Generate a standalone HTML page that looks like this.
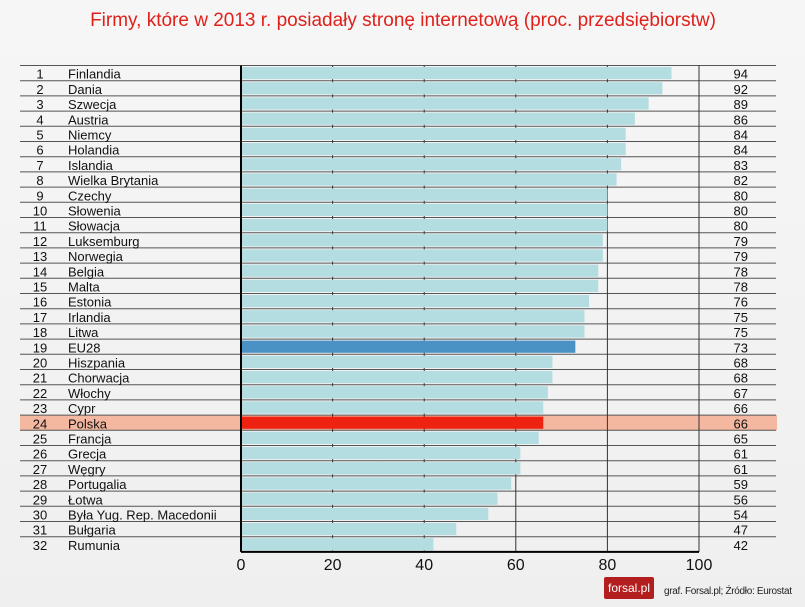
<!DOCTYPE html>
<html><head><meta charset="utf-8"><style>
body{margin:0;background:#f4f4f4;font-family:"Liberation Sans",sans-serif;}
#wrap{position:relative;width:805px;height:607px;overflow:hidden;background:linear-gradient(180deg,#f6f6f6,#efefef);}
</style></head><body>
<div id="wrap">
<svg id="svg" width="805" height="607" xmlns="http://www.w3.org/2000/svg">
<text x="403" y="26" text-anchor="middle" font-size="19" fill="#e0201a" font-family="Liberation Sans, sans-serif">Firmy, które w 2013 r. posiadały stronę internetową (proc. przedsiębiorstw)</text>
<g id="rows"></g>
<g id="grid"></g>
<g id="bars"></g>
<g id="labels"></g>
<rect x="604" y="577" width="50" height="22" rx="2" fill="#b21e1e"/>
<text x="629" y="592" text-anchor="middle" font-size="12" fill="#fff">forsal.pl</text>
<text x="664" y="594" font-size="10" fill="#222" textLength="128">graf. Forsal.pl; Źródło: Eurostat</text>
</svg>
</div>
<script>
const countries=["Finlandia","Dania","Szwecja","Austria","Niemcy","Holandia","Islandia","Wielka Brytania","Czechy","Słowenia","Słowacja","Luksemburg","Norwegia","Belgia","Malta","Estonia","Irlandia","Litwa","EU28","Hiszpania","Chorwacja","Włochy","Cypr","Polska","Francja","Grecja","Węgry","Portugalia","Łotwa","Była Yug. Rep. Macedonii","Bułgaria","Rumunia"];
const values=[94,92,89,86,84,84,83,82,80,80,80,79,79,78,78,76,75,75,73,68,68,67,66,66,65,61,61,59,56,54,47,42];
const ticks=[0,20,40,60,80,100];
const NS="http://www.w3.org/2000/svg";
const x0=241,x1=699,yTop=65.5,rh=15.2;
const xs=v=>x0+(v/100)*(x1-x0);
const ys=i=>yTop+i*rh;
function mk(t,a,p){const e=document.createElementNS(NS,t);for(const k in a)e.setAttribute(k,a[k]);p.appendChild(e);return e;}
const rows=document.getElementById('rows'),grid=document.getElementById('grid'),bars=document.getElementById('bars'),labels=document.getElementById('labels');
countries.forEach((c,i)=>{
  const y=ys(i);
  if(c==="Polska"){const h=mk('rect',{x:20,y:y,width:757,height:rh,fill:'#f4b8a0'},rows);
    
    }
  const l=mk('line',{x1:20,x2:776,y1:y,y2:y,stroke:'#555','stroke-width':1},rows);
  
  
  const col=c==="Polska"?'#ee2211':(c==="EU28"?'#4a92c4':'#b3dde0');
  const b=mk('rect',{x:x0,y:y+1.5,width:xs(values[i])-x0,height:rh-3,fill:col},bars);
  
  
  const ty=y+rh-2;
  const r=mk('text',{x:40,y:ty,'text-anchor':'middle','font-size':13,fill:'#111'},labels);r.textContent=i+1;
  
  
  const n=mk('text',{x:68,y:ty,'font-size':13,fill:'#111'},labels);n.textContent=c;
  
  
  const v=mk('text',{x:748,y:ty,'text-anchor':'end','font-size':13,fill:'#111'},labels);v.textContent=values[i];
  
  
});
ticks.forEach(t=>{
  if(t>0){const g=mk('line',{x1:xs(t),x2:xs(t),y1:yTop,y2:ys(32),stroke:'#333','stroke-width':1},grid);
    
    }
  const tl=mk('text',{x:xs(t),y:570,'text-anchor':'middle','font-size':16,fill:'#111'},labels);tl.textContent=t;
  
  
});
const ya=mk('line',{x1:x0,x2:x0,y1:yTop,y2:ys(32),stroke:'#000','stroke-width':2},labels);


const xa=mk('line',{x1:x0,x2:x1,y1:ys(32),y2:ys(32),stroke:'#000','stroke-width':2},labels);


</script>
</body></html>
